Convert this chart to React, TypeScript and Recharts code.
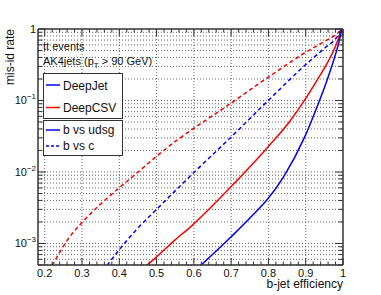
import React from 'react';
import { LineChart, Line, XAxis, YAxis, ReferenceLine } from 'recharts';

// ---- data (b-jet efficiency vs mis-id rate) ----
const deepJetUdsgEff = [0.618, 0.698, 0.778, 0.798, 0.841, 0.897, 0.93, 0.957, 0.975, 0.988, 0.997];
const deepJetUdsgMis = [4.91e-4, 1.21e-3, 3.2e-3, 4.18e-3, 8.6e-3, 0.0307, 0.0807, 0.191, 0.365, 0.624, 1.0];

const deepCsvUdsgEff = [0.473, 0.497, 0.546, 0.591, 0.698, 0.798, 0.859, 0.897, 0.93, 0.957, 0.979, 0.997];
const deepCsvUdsgMis = [4.91e-4, 6.3e-4, 1.08e-3, 1.71e-3, 6.1e-3, 0.0222, 0.0526, 0.101, 0.191, 0.327, 0.561, 1.0];

const deepJetCEff = [0.367, 0.398, 0.448, 0.497, 0.546, 0.591, 0.698, 0.798, 0.897, 0.948, 0.984, 0.997];
const deepJetCMis = [4.91e-4, 7.98e-4, 1.6e-3, 2.9e-3, 5.19e-3, 8.84e-3, 0.0302, 0.0982, 0.308, 0.526, 0.775, 1.0];

const deepCsvCEff = [0.22, 0.26, 0.303, 0.349, 0.398, 0.448, 0.497, 0.555, 0.591, 0.698, 0.798, 0.897, 0.948, 0.984, 0.997];
const deepCsvCMis = [4.91e-4, 1.1e-3, 2.04e-3, 3.52e-3, 5.91e-3, 9.75e-3, 0.0161, 0.0279, 0.0379, 0.0905, 0.209, 0.462, 0.659, 0.861, 1.0];

// ---- axes ----
const xDomain = [0.182, 1];
const yDomain = [0.0005, 1];
const xMajorTicks = [0.2, 0.3, 0.4, 0.5, 0.6, 0.7, 0.8, 0.9, 1.0];
const xTickLabels = ['0.2', '0.3', '0.4', '0.5', '0.6', '0.7', '0.8', '0.9', '1'];
const yDecadeTicks = [0.001, 0.01, 0.1, 1];
const yTickExponents = ['\u22123', '\u22122', '\u22121', ''];

const xMinorStep = 0.02;
const xAllTicks: number[] = [];
for (let k = 0; k <= 40; k++) xAllTicks.push(Math.round((0.2 + k * xMinorStep) * 100) / 100);

const yMantissas = [1, 2, 3, 4, 5, 6, 7, 8, 9];
const yAllTicks: number[] = [];
[-4, -3, -2, -1].forEach((e) => {
  yMantissas.forEach((m) => {
    const v = m * Math.pow(10, e);
    if (v >= 0.0005 - 1e-12 && v <= 1) yAllTicks.push(Number(v.toPrecision(3)));
  });
});
yAllTicks.push(1);

const toPoints = (xs: number[], ys: number[]) => xs.map((x, i) => ({ x, y: ys[i] }));
const deepJetUdsg = toPoints(deepJetUdsgEff, deepJetUdsgMis);
const deepCsvUdsg = toPoints(deepCsvUdsgEff, deepCsvUdsgMis);
const deepJetC = toPoints(deepJetCEff, deepJetCMis);
const deepCsvC = toPoints(deepCsvCEff, deepCsvCMis);

const FONT = '"Liberation Sans", Arial, Helvetica, sans-serif';
const FRAME = '#333';
const GRID = '#666';
const BLUE = '#0000ff';
const RED = '#ff0000';

const isMajorX = (v: number) => xMajorTicks.some((t) => Math.abs(t - v) < 1e-6);
const decadeIndex = (v: number) => yDecadeTicks.findIndex((t) => Math.abs(t - v) / t < 1e-6);

const BottomTick = (props: any) => {
  const { x, y, payload } = props;
  const idx = xMajorTicks.findIndex((t) => Math.abs(t - payload.value) < 1e-6);
  const major = idx >= 0;
  return (
    <g>
      <line x1={x} x2={x} y1={y} y2={y - (major ? 7 : 3.5)} stroke={FRAME} strokeWidth={1} />
      {major && (
        <text x={x} y={y + 12} textAnchor="middle" fontSize={11} fill="#111" fontFamily={FONT}>
          {xTickLabels[idx]}
        </text>
      )}
    </g>
  );
};

const TopTick = (props: any) => {
  const { x, y, payload } = props;
  const major = isMajorX(payload.value);
  return <line x1={x} x2={x} y1={y} y2={y + (major ? 7 : 3.5)} stroke={FRAME} strokeWidth={1} />;
};

const LeftTick = (props: any) => {
  const { x, y, payload } = props;
  const idx = decadeIndex(payload.value);
  const major = idx >= 0;
  return (
    <g>
      <line x1={x} x2={x + (major ? 8 : 4.5)} y1={y} y2={y} stroke={FRAME} strokeWidth={1} />
      {major && (
        <text x={x - 2} y={y + 4} textAnchor="end" fontSize={11} fill="#111" fontFamily={FONT}>
          {yTickExponents[idx] === '' ? (
            '1'
          ) : (
            <>
              10
              <tspan dy={-5} fontSize={8}>
                {yTickExponents[idx]}
              </tspan>
            </>
          )}
        </text>
      )}
    </g>
  );
};

const RightTick = (props: any) => {
  const { x, y, payload } = props;
  const major = decadeIndex(payload.value) >= 0;
  return <line x1={x} x2={x - (major ? 8 : 4.5)} y1={y} y2={y} stroke={FRAME} strokeWidth={1} />;
};

const axisLine = { stroke: FRAME, strokeWidth: 1.5 };

export default function App() {
  const gridX = xMajorTicks.filter((v) => v < 1);
  const gridY = yAllTicks.filter((v) => v < 1);
  return (
    <div style={{ position: 'absolute', left: 0, top: 0, width: 381, height: 295, background: '#fff' }}>
      <LineChart width={381} height={295} margin={{ top: 0, right: 0, bottom: 0, left: 0 }}>
        <XAxis
          xAxisId="bottom"
          type="number"
          dataKey="x"
          domain={xDomain}
          allowDataOverflow
          ticks={xAllTicks}
          interval={0}
          tick={BottomTick}
          tickLine={false}
          tickSize={0}
          tickMargin={0}
          axisLine={axisLine}
          height={30}
        />
        <XAxis
          xAxisId="top"
          orientation="top"
          type="number"
          dataKey="x"
          domain={xDomain}
          allowDataOverflow
          ticks={xAllTicks}
          interval={0}
          tick={TopTick}
          tickLine={false}
          tickSize={0}
          tickMargin={0}
          axisLine={axisLine}
          height={29}
        />
        <YAxis
          yAxisId="left"
          type="number"
          scale="log"
          dataKey="y"
          domain={yDomain}
          allowDataOverflow
          ticks={yAllTicks}
          interval={0}
          tick={LeftTick}
          tickLine={false}
          tickSize={0}
          tickMargin={0}
          axisLine={axisLine}
          width={38}
        />
        <YAxis
          yAxisId="right"
          orientation="right"
          type="number"
          scale="log"
          dataKey="y"
          domain={yDomain}
          allowDataOverflow
          ticks={yAllTicks}
          interval={0}
          tick={RightTick}
          tickLine={false}
          tickSize={0}
          tickMargin={0}
          axisLine={axisLine}
          width={38}
        />
        {gridX.map((v) => (
          <ReferenceLine key={'gx' + v} x={v} xAxisId="bottom" yAxisId="left" stroke={GRID} strokeDasharray="1 2" strokeWidth={1} />
        ))}
        {gridY.map((v) => (
          <ReferenceLine key={'gy' + v} y={v} xAxisId="bottom" yAxisId="left" stroke={GRID} strokeDasharray="1 2" strokeWidth={1} />
        ))}
        <Line data={deepCsvC} dataKey="y" xAxisId="bottom" yAxisId="left" type="monotone" stroke={RED} strokeWidth={1.5} strokeDasharray="4 3" dot={false} isAnimationActive={false} />
        <Line data={deepJetC} dataKey="y" xAxisId="bottom" yAxisId="left" type="monotone" stroke={BLUE} strokeWidth={1.5} strokeDasharray="4 3" dot={false} isAnimationActive={false} />
        <Line data={deepCsvUdsg} dataKey="y" xAxisId="bottom" yAxisId="left" type="monotone" stroke={RED} strokeWidth={1.5} dot={false} isAnimationActive={false} />
        <Line data={deepJetUdsg} dataKey="y" xAxisId="bottom" yAxisId="left" type="monotone" stroke={BLUE} strokeWidth={1.5} dot={false} isAnimationActive={false} />
      </LineChart>
      <svg width={381} height={295} style={{ position: 'absolute', left: 0, top: 0, pointerEvents: 'none' }}>
        <g fontFamily={FONT} fill="#111">
          <text transform="rotate(-90)" x={-29} y={14} textAnchor="end" fontSize={12}>
            mis-id rate
          </text>
          <text x={343} y={288} textAnchor="end" fontSize={12}>
            b-jet efficiency
          </text>
          <text x={43} y={49.5} fontSize={11}>
            tt events
          </text>
          <text x={43} y={65} fontSize={11}>
            AK4jets (p
            <tspan fontSize={8} dy={3}>T</tspan>
            <tspan dy={-3}> &gt; 90 GeV)</tspan>
          </text>
          <rect x={43.5} y={73.5} width={79} height={45} fill="#fff" stroke={FRAME} strokeWidth={1} />
          <line x1={46} x2={60} y1={85} y2={85} stroke={BLUE} strokeWidth={1.5} />
          <text x={63} y={90} fontSize={12}>DeepJet</text>
          <line x1={46} x2={60} y1={107.5} y2={107.5} stroke={RED} strokeWidth={1.5} />
          <text x={63} y={112} fontSize={12}>DeepCSV</text>
          <rect x={43.5} y={120.5} width={79} height={35} fill="#fff" stroke={FRAME} strokeWidth={1} />
          <line x1={46} x2={60} y1={130} y2={130} stroke={BLUE} strokeWidth={1.5} />
          <text x={63} y={133.5} fontSize={12}>b vs udsg</text>
          <line x1={46} x2={60} y1={146} y2={146} stroke={BLUE} strokeWidth={1.5} strokeDasharray="3 2" />
          <text x={63} y={150} fontSize={12}>b vs c</text>
        </g>
      </svg>
    </div>
  );
}
